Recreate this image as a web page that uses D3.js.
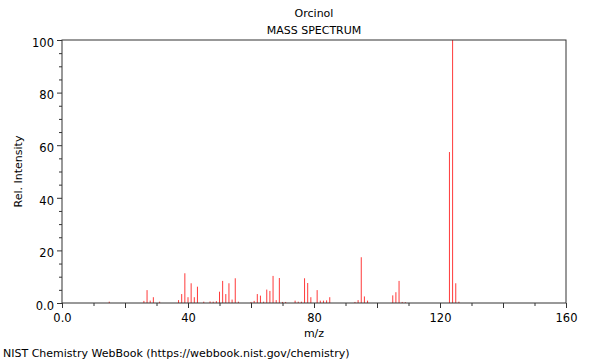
<!DOCTYPE html>
<html>
<head>
<meta charset="UTF-8">
<title>Orcinol mass spectrum</title>
<script src="https://d3js.org/d3.v7.min.js"></script>
<style>
    body { margin: 0; background: #fff; }
    svg { display: block; font-family: "DejaVu Sans", sans-serif; }
</style>
</head>
<body>
<svg id="chart" width="600" height="360"></svg>
<script>
// peaks (m/z, relative intensity)
const mz = [15, 26, 27, 28, 29, 31, 37, 38, 39, 40, 41, 42, 43, 45, 47, 48, 49,
    50, 51, 52, 53, 54, 55, 56, 60, 61, 62, 63, 64, 65, 66, 67, 68, 69, 70, 71,
    74, 75, 76, 77, 78, 79, 81, 82, 83, 84, 85, 93, 94, 95, 96, 97,
    105, 106, 107, 108, 109, 123, 124, 125, 126];
const intensity = [0.5, 0.8, 4.9, 0.9, 2.2, 0.5, 1.1, 3.4, 11.3, 2.2, 7.5, 2.2, 6.2, 0.5, 0.6, 0.5, 0.7,
    4.3, 8.4, 3.4, 7.5, 1.3, 9.4, 0.5, 0.4, 0.8, 3.4, 2.8, 0.5, 5.1, 4.6, 10.3, 1.1, 9.5, 0.4, 0.4,
    0.9, 0.5, 0.5, 9.4, 7.6, 2.2, 4.9, 0.9, 0.9, 1.0, 2.2, 0.4, 1.1, 17.4, 2.5, 0.9,
    2.9, 4.1, 8.4, 0.4, 0.3, 57.4, 100, 7.5, 0.5];
const xLabelTicks = [0, 40, 80, 120, 160];
const yLabelTicks = [0, 20, 40, 60, 80, 100];

const svg = d3.select("#chart");
const pLeft = 62, pRight = 566, pTop = 40, pBottom = 303;

const x = d3.scaleLinear().domain([0, 160]).range([pLeft, pRight]);
const y = d3.scaleLinear().domain([0, 100]).range([pBottom, pTop]);

const fmt = d => d === 0 ? "0.0" : String(d);

// bars
svg.append("g")
    .selectAll("line")
    .data(mz.map((m, i) => ({ m: m, v: intensity[i] })))
    .enter()
    .append("line")
    .attr("x1", d => x(d.m))
    .attr("x2", d => x(d.m))
    .attr("y1", y(0))
    .attr("y2", d => y(d.v))
    .attr("stroke", "#ff3a3a")
    .attr("stroke-width", 1);

// frame
svg.append("rect")
    .attr("x", pLeft).attr("y", pTop)
    .attr("width", pRight - pLeft).attr("height", pBottom - pTop)
    .attr("fill", "none").attr("stroke", "#333").attr("stroke-width", 1);

// x axis
const xAxis = svg.append("g")
    .attr("transform", `translate(0,${pBottom})`)
    .call(d3.axisBottom(x).tickValues(d3.range(0, 161, 10)).tickSize(0).tickFormat(""));
xAxis.select(".domain").remove();
xAxis.selectAll(".tick line")
    .attr("y2", d => d % 20 === 0 ? 5 : 3)
    .attr("stroke", "#333");
svg.append("g")
    .attr("transform", `translate(0,${pBottom})`)
    .call(d3.axisBottom(x).tickValues(xLabelTicks).tickSize(0).tickPadding(11).tickFormat(fmt))
    .call(g => g.select(".domain").remove())
    .call(g => g.selectAll("text").attr("font-size", 11.5).attr("fill", "#000")
        .attr("font-family", "DejaVu Sans, sans-serif"));

// y axis
const yAxis = svg.append("g")
    .attr("transform", `translate(${pLeft},0)`)
    .call(d3.axisLeft(y).tickValues(d3.range(0, 101, 5)).tickSize(0).tickFormat(""));
yAxis.select(".domain").remove();
yAxis.selectAll(".tick line")
    .attr("x2", d => d % 20 === 0 ? -5 : -3)
    .attr("stroke", "#333");
svg.append("g")
    .attr("transform", `translate(${pLeft},0)`)
    .call(d3.axisLeft(y).tickValues(yLabelTicks).tickSize(0).tickPadding(8).tickFormat(fmt))
    .call(g => g.select(".domain").remove())
    .call(g => g.selectAll("text").attr("font-size", 11.5).attr("fill", "#000")
        .attr("dy", "0.55em")
        .attr("font-family", "DejaVu Sans, sans-serif"));

// titles and labels
svg.append("text").attr("x", 314).attr("y", 17).attr("text-anchor", "middle")
    .attr("font-size", 11).text("Orcinol");
svg.append("text").attr("x", 314).attr("y", 34).attr("text-anchor", "middle")
    .attr("font-size", 11).text("MASS SPECTRUM");
svg.append("text").attr("x", 314).attr("y", 337).attr("text-anchor", "middle")
    .attr("font-size", 11).text("m/z");
svg.append("text")
    .attr("transform", `translate(22,${(pTop + pBottom) / 2}) rotate(-90)`)
    .attr("text-anchor", "middle").attr("font-size", 11).text("Rel. Intensity");
svg.append("text").attr("x", 3).attr("y", 357)
    .attr("font-size", 11).text("NIST Chemistry WebBook (https://webbook.nist.gov/chemistry)");
</script>
</body>
</html>
